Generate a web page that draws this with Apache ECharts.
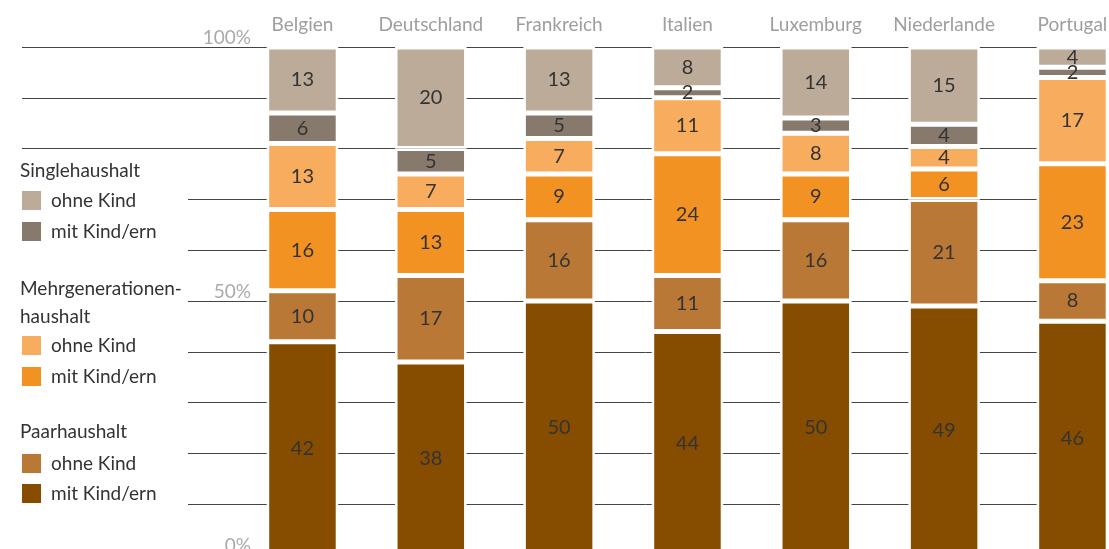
<!DOCTYPE html>
<html>
<head>
<meta charset="utf-8">
<script src="https://cdn.jsdelivr.net/npm/echarts@6/dist/echarts.min.js"></script>
<style>html,body{margin:0;padding:0;background:#fff}#c{width:1109px;height:549px}</style>
</head>
<body>
<div id="c"></div>
<script>
const categories = ['Belgien','Deutschland','Frankreich','Italien','Luxemburg','Niederlande','Portugal'];
const paarMitKind    = [42, 38, 50, 44, 50, 49, 46];
const paarOhneKind   = [10, 17, 16, 11, 16, 21, 8];
const mehrMitKind    = [16, 13, 9, 24, 9, 6, 23];
const mehrOhneKind   = [13, 7, 7, 11, 8, 4.4, 17];
const singleMitKind  = [6, 5, 5, 2, 3, 4.4, 2];
const singleOhneKind = [13, 20, 13, 8, 14, 15.2, 4];
const yTickLabels = {0: '0%', 50: '50%', 100: '100%'};
const groupTitles = ['Singlehaushalt', 'Mehrgenerationen-\nhaushalt', 'Paarhaushalt'];

const FONT = 'Lato';
const colors = {
  paarMit: '#864d00', paarOhne: '#b97835',
  mehrMit: '#f29222', mehrOhne: '#f8ac5e',
  singleMit: '#877a6c', singleOhne: '#bbab98'
};

function barSeries(name, data, color) {
  return {
    name: name, type: 'bar', stack: 'all', xAxisIndex: 2, yAxisIndex: 2,
    data: data, barWidth: 71.5, z: 3,
    itemStyle: { color: color, borderColor: '#fff', borderWidth: 2.5 },
    label: { show: true, position: 'inside', color: '#333', fontSize: 20, fontFamily: FONT,
      formatter: p => String(Math.round(p.value)) }
  };
}

const lineAxis = (idx, min, max, margin) => ({
  gridIndex: idx, type: 'value', min: min, max: max, interval: 10,
  axisLine: { show: false }, axisTick: { show: false },
  splitLine: { show: true, lineStyle: { color: '#444', width: 1 } },
  axisLabel: { margin: margin, color: '#aaa', fontSize: 19, fontFamily: FONT, verticalAlign: 'bottom',
    showMinLabel: true, showMaxLabel: true, formatter: v => yTickLabels[v] || '' }
});

const chart = echarts.init(document.getElementById('c'), null, { renderer: 'canvas' });
chart.setOption({
  animation: false,
  textStyle: { fontFamily: FONT },
  grid: [
    { left: 22, top: 47, width: 1081, height: 101.6, outerBoundsMode: 'none' },
    { left: 188, top: 199.4, width: 915, height: 355.6, outerBoundsMode: 'none' },
    { left: 238.3, top: 47, width: 898.3, height: 508, outerBoundsMode: 'none' }
  ],
  xAxis: [
    { gridIndex: 0, type: 'value', show: false, min: 0, max: 1 },
    { gridIndex: 1, type: 'value', show: false, min: 0, max: 1 },
    { gridIndex: 2, type: 'category', data: categories, position: 'top',
      axisLine: { show: false }, axisTick: { show: false },
      axisLabel: { interval: 0, color: '#9e9e9e', fontSize: 19, fontFamily: FONT, margin: 13 } }
  ],
  yAxis: [
    lineAxis(0, 80, 100, -229),
    lineAxis(1, 0, 70, -63),
    { gridIndex: 2, type: 'value', min: 0, max: 100, show: false, splitLine: { show: false } }
  ],
  title: [
    { text: groupTitles[0], left: 20, top: 161, padding: 0, textStyle: { fontSize: 19, fontWeight: 'normal', color: '#333', fontFamily: FONT } },
    { text: groupTitles[1], left: 20, top: 275, padding: 0, textStyle: { fontSize: 19, fontWeight: 'normal', color: '#333', fontFamily: FONT, lineHeight: 28 } },
    { text: groupTitles[2], left: 20, top: 422, padding: 0, textStyle: { fontSize: 19, fontWeight: 'normal', color: '#333', fontFamily: FONT } }
  ],
  legend: [
    { data: ['Single ohne Kind', 'Single mit Kind/ern'], orient: 'vertical', left: 20, top: 189, padding: 0, itemWidth: 21, itemHeight: 21, itemGap: 8, icon: 'rect', selectedMode: false,
      formatter: n => n.replace(/^\S+ /, ''), textStyle: { fontSize: 19, color: '#333', fontFamily: FONT, padding: [0, 0, 0, 4] } },
    { data: ['Mehr ohne Kind', 'Mehr mit Kind/ern'], orient: 'vertical', left: 20, top: 334, padding: 0, itemWidth: 21, itemHeight: 21, itemGap: 8, icon: 'rect', selectedMode: false,
      formatter: n => n.replace(/^\S+ /, ''), textStyle: { fontSize: 19, color: '#333', fontFamily: FONT, padding: [0, 0, 0, 4] } },
    { data: ['Paar ohne Kind', 'Paar mit Kind/ern'], orient: 'vertical', left: 20, top: 452, padding: 0, itemWidth: 21, itemHeight: 21, itemGap: 7, icon: 'rect', selectedMode: false,
      formatter: n => n.replace(/^\S+ /, ''), textStyle: { fontSize: 19, color: '#333', fontFamily: FONT, padding: [0, 0, 0, 4] } }
  ],
  series: [
    barSeries('Paar mit Kind/ern', paarMitKind, colors.paarMit),
    barSeries('Paar ohne Kind', paarOhneKind, colors.paarOhne),
    barSeries('Mehr mit Kind/ern', mehrMitKind, colors.mehrMit),
    barSeries('Mehr ohne Kind', mehrOhneKind, colors.mehrOhne),
    barSeries('Single mit Kind/ern', singleMitKind, colors.singleMit),
    barSeries('Single ohne Kind', singleOhneKind, colors.singleOhne)
  ]
});
</script>
</body>
</html>
